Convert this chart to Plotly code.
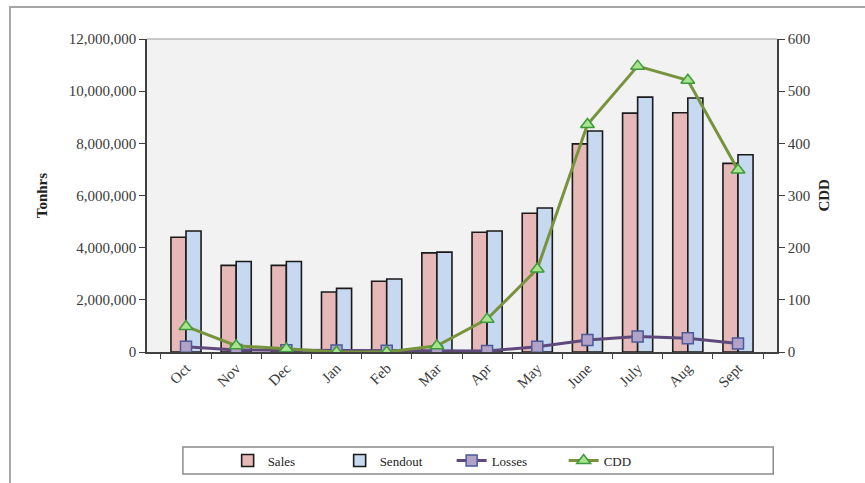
import plotly.graph_objects as go

months = ["Oct", "Nov", "Dec", "Jan", "Feb", "Mar", "Apr", "May", "June", "July", "Aug", "Sept"]
sales = [4400000, 3320000, 3320000, 2300000, 2710000, 3800000, 4590000, 5320000, 7980000, 9160000, 9170000, 7230000]
sendout = [4640000, 3470000, 3470000, 2440000, 2800000, 3830000, 4640000, 5520000, 8470000, 9770000, 9740000, 7560000]
losses = [200000, 80000, 70000, 60000, 50000, 30000, 40000, 200000, 460000, 590000, 530000, 330000]
cdd = [49, 12, 6, 0, 0, 12, 63, 159, 436, 548, 521, 349]

FONT = "Liberation Serif"
TXT = "#3a3a3a"
TICKFONT = dict(family=FONT, size=15, color=TXT)

fig = go.Figure()
fig.add_trace(go.Bar(x=months, y=sales, name="Sales",
                     marker=dict(color="#E6B9B8", line=dict(color="#1a1a1a", width=1.6))))
fig.add_trace(go.Bar(x=months, y=sendout, name="Sendout",
                     marker=dict(color="#C6D9F1", line=dict(color="#1a1a1a", width=1.6))))
fig.add_trace(go.Scatter(x=months, y=losses, name="Losses", mode="lines+markers",
                         line=dict(color="#5F497A", width=3),
                         marker=dict(symbol="square", size=11, color="#B3A2C7",
                                     line=dict(color="#4A5A9A", width=1.5))))
fig.add_trace(go.Scatter(x=months, y=cdd, name="CDD", mode="lines+markers", yaxis="y2",
                         line=dict(color="#77933C", width=3),
                         marker=dict(symbol="triangle-up", size=12, color="#A9E38E",
                                     line=dict(color="#3C9A3C", width=1.5))))

fig.update_layout(
    width=865, height=483,
    margin=dict(l=147, r=88, t=39, b=131, autoexpand=False),
    paper_bgcolor="white", plot_bgcolor="#F2F2F2",
    barmode="group", bargap=0.4, bargroupgap=0,
    font=dict(family=FONT, size=14, color=TXT),
    showlegend=True,
    legend=dict(orientation="h", x=0.128, y=-0.347, xanchor="left", yanchor="middle",
                font=dict(family=FONT, size=13, color="#222"),
                bgcolor="rgba(0,0,0,0)", borderwidth=0,
                entrywidth=67, entrywidthmode="pixels",
                traceorder="normal"),
    xaxis=dict(type="category", tickangle=-45, tickson="boundaries", ticks="outside",
               ticklen=5, tickcolor="#404040", showline=True, linecolor="#404040",
               linewidth=1.5, showgrid=False, tickfont=TICKFONT),
    yaxis=dict(range=[0, 12000000], dtick=2000000, tickformat=",d", ticks="outside",
               ticklen=6, tickcolor="#404040", showline=True, linecolor="#404040",
               linewidth=1.5, showgrid=False, zeroline=False, tickfont=TICKFONT),
    yaxis2=dict(range=[0, 600], dtick=100, overlaying="y", side="right", ticks="outside",
                ticklen=6, tickcolor="#404040", showline=True, linecolor="#404040",
                linewidth=1.5, showgrid=False, zeroline=False, tickfont=TICKFONT),
)

# axis titles
fig.add_annotation(text="<b>Tonhrs</b>", xref="paper", yref="paper", x=-0.183, y=0.5,
                   textangle=-90, showarrow=False, font=dict(family=FONT, size=15, color="#222"))
fig.add_annotation(text="<b>CDD</b>", xref="paper", yref="paper", x=1.089, y=0.5,
                   textangle=-90, showarrow=False, font=dict(family=FONT, size=15, color="#222"))

# plot-area top border, legend box, outer frame
fig.add_shape(type="line", xref="paper", yref="paper", x0=0, x1=1, y0=1, y1=1,
              line=dict(color="#9a9a9a", width=1))
fig.add_shape(type="rect", xref="paper", yref="paper", x0=0.057, x1=0.994, y0=-0.39, y1=-0.3035,
              line=dict(color="#8c8c8c", width=1.5), fillcolor="rgba(0,0,0,0)")
fig.add_shape(type="rect", xref="paper", yref="paper", x0=-0.2175, x1=1.6, y0=-0.5, y1=1.102,
              line=dict(color="#a6a6a6", width=2), fillcolor="rgba(0,0,0,0)", layer="below")

fig.write_html("out.html")
